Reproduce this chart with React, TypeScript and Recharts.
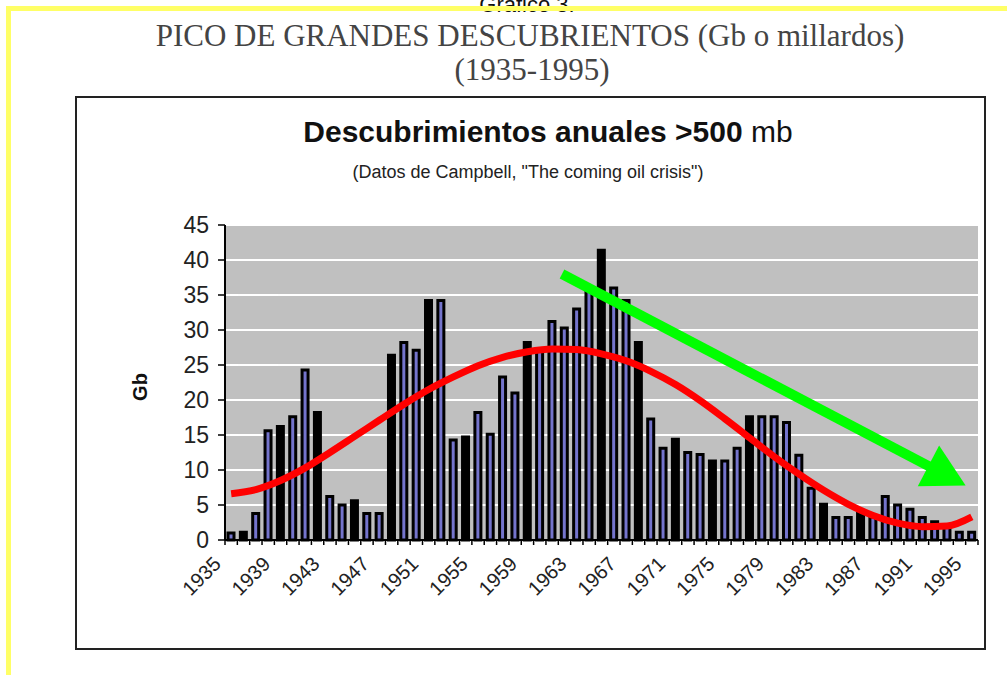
import React from "react";
import {
  ComposedChart,
  Bar,
  Line,
  Cell,
  XAxis,
  YAxis,
  CartesianGrid,
  ReferenceLine,
} from "recharts";

// ---- data ----
const years: number[] = [
  1935, 1936, 1937, 1938, 1939, 1940, 1941, 1942, 1943, 1944,
  1945, 1946, 1947, 1948, 1949, 1950, 1951, 1952, 1953, 1954,
  1955, 1956, 1957, 1958, 1959, 1960, 1961, 1962, 1963, 1964,
  1965, 1966, 1967, 1968, 1969, 1970, 1971, 1972, 1973, 1974,
  1975, 1976, 1977, 1978, 1979, 1980, 1981, 1982, 1983, 1984,
  1985, 1986, 1987, 1988, 1989, 1990, 1991, 1992, 1993, 1994, 1995,
];

const discoveries: number[] = [
  1.0, 1.1, 3.8, 15.6, 16.2, 17.6, 24.3, 18.2, 6.2, 5.0,
  5.6, 3.8, 3.8, 26.4, 28.2, 27.1, 34.2, 34.2, 14.3, 14.7,
  18.2, 15.1, 23.3, 21.0, 28.2, 27.0, 31.2, 30.3, 33.0, 35.7,
  41.4, 36.0, 34.2, 28.2, 17.3, 13.1, 14.4, 12.5, 12.2, 11.3,
  11.3, 13.1, 17.6, 17.6, 17.6, 16.8, 12.1, 7.4, 5.1, 3.2,
  3.2, 3.8, 3.3, 6.2, 5.0, 4.4, 3.2, 2.6, 1.9, 1.1, 1.1,
];

// red trend curve, read every second year (null = not read)
const trend: (number | null)[] = [
  6.6, null, 7.2, null, 8.5, null, 10.3, null, 12.5, null,
  14.8, null, 17.1, null, 19.4, null, 21.5, null, 23.3, null,
  24.9, null, 26.1, null, 26.9, null, 27.3, null, 27.2, null,
  26.6, null, 25.6, null, 24.1, null, 22.2, null, 19.9, null,
  17.3, null, 14.6, null, 11.9, null, 9.4, null, 7.1, null,
  5.1, null, 3.5, null, 2.4, null, 1.9, null, 2.0, null, 3.3,
];

// bars that appear solid black in the picture
const darkYears: number[] = [
  1936, 1939, 1942, 1945, 1948, 1951, 1954, 1959, 1965, 1968,
  1971, 1974, 1977, 1983, 1986,
];

const labelYears: number[] = [
  1935, 1939, 1943, 1947, 1951, 1955, 1959, 1963, 1967, 1971,
  1975, 1979, 1983, 1987, 1991, 1995,
];

const yTicks: number[] = [0, 5, 10, 15, 20, 25, 30, 35, 40, 45];

// green arrow: start and tip (year, Gb)
const arrowStart = { year: 1961.8, value: 38.0 };
const arrowEnd = { year: 1994.5, value: 7.8 };

const data = years.map((y, i) => ({
  year: y,
  value: discoveries[i],
  trend: trend[i],
}));

const boundaryTicks = [...years.map((y) => y - 0.5), years[years.length - 1] + 0.5];
const xDomain = [years[0] - 0.5, years[years.length - 1] + 0.5];

const SANS = "'Liberation Sans', Arial, sans-serif";
const SERIF = "'Liberation Serif', 'Times New Roman', serif";

const YearTick = (props: any) => {
  const { x, y, payload } = props;
  const yr = Math.round(payload.value + 0.5);
  if (!labelYears.includes(yr)) return null;
  const ax = x - 13;
  const ay = y + 8;
  return (
    <text
      x={ax}
      y={ay}
      dy="0.72em"
      transform={`rotate(-45 ${ax} ${ay})`}
      textAnchor="end"
      fontSize={20}
      fontFamily={SANS}
      fill="#222"
    >
      {yr}
    </text>
  );
};

const ArrowShape = (props: any) => {
  const { x1, y1, x2, y2 } = props;
  if ([x1, y1, x2, y2].some((v) => typeof v !== "number" || isNaN(v))) return null;
  const dx = x2 - x1;
  const dy = y2 - y1;
  const len = Math.hypot(dx, dy);
  const ux = dx / len;
  const uy = dy / len;
  const headLen = 42;
  const headW = 23;
  const bx = x2 - ux * headLen;
  const by = y2 - uy * headLen;
  const px = -uy;
  const py = ux;
  return (
    <g>
      <line x1={x1} y1={y1} x2={bx + ux * 3} y2={by + uy * 3} stroke="#00ff00" strokeWidth={10} />
      <polygon
        points={`${x2},${y2} ${bx + px * headW},${by + py * headW} ${bx - px * headW},${by - py * headW}`}
        fill="#00ff00"
      />
    </g>
  );
};

export default function App() {
  return (
    <div
      style={{
        position: "absolute",
        left: 0,
        top: 0,
        width: 1007,
        height: 675,
        background: "#ffffff",
        overflow: "hidden",
        fontFamily: SANS,
      }}
    >
      {/* "Gráfico 3." cut at the top, as in the reference */}
      <div
        style={{
          position: "absolute",
          left: 0,
          width: 1054,
          top: -7,
          textAlign: "center",
          fontSize: 22,
          lineHeight: "24px",
          color: "#111",
          fontFamily: SANS,
        }}
      >
        Gráfico 3.
      </div>
      {/* yellow frame */}
      <div
        style={{
          position: "absolute",
          left: 6,
          top: 6,
          width: 1020,
          height: 700,
          borderTop: "5px solid #ffff66",
          borderLeft: "5px solid #ffff66",
        }}
      />
      {/* outer serif titles */}
      <div
        style={{
          position: "absolute",
          left: 0,
          width: 1060,
          top: 18,
          textAlign: "center",
          fontFamily: SERIF,
          fontSize: 31,
          lineHeight: "36px",
          color: "#444",
        }}
      >
        PICO DE GRANDES DESCUBRIENTOS (Gb o millardos)
      </div>
      <div
        style={{
          position: "absolute",
          left: 0,
          width: 1064,
          top: 52,
          textAlign: "center",
          fontFamily: SERIF,
          fontSize: 31,
          lineHeight: "36px",
          color: "#444",
        }}
      >
        (1935-1995)
      </div>
      {/* chart frame */}
      <div
        style={{
          position: "absolute",
          left: 75,
          top: 96,
          width: 907,
          height: 550,
          border: "2px solid #222",
        }}
      />
      {/* chart titles */}
      <div
        style={{
          position: "absolute",
          left: 75,
          width: 946,
          top: 114,
          textAlign: "center",
          fontSize: 30,
          lineHeight: "36px",
          color: "#111",
        }}
      >
        <span style={{ fontWeight: "bold" }}>Descubrimientos anuales &gt;500</span> mb
      </div>
      <div
        style={{
          position: "absolute",
          left: 75,
          width: 906,
          top: 161,
          textAlign: "center",
          fontSize: 18,
          lineHeight: "22px",
          color: "#222",
        }}
      >
        (Datos de Campbell, "The coming oil crisis")
      </div>
      {/* y axis title */}
      <div
        style={{
          position: "absolute",
          left: 110,
          top: 372,
          width: 60,
          height: 30,
          lineHeight: "30px",
          textAlign: "center",
          fontWeight: "bold",
          fontSize: 20,
          color: "#111",
          transform: "rotate(-90deg)",
        }}
      >
        Gb
      </div>

      <div style={{ position: "absolute", left: 0, top: 0 }}>
        <ComposedChart
          width={1007}
          height={675}
          data={data}
          margin={{ top: 225, right: 29, bottom: 55, left: 0 }}
        >
          <CartesianGrid
            xAxisId="x"
            vertical={false}
            fill="#c0c0c0"
            fillOpacity={1}
            stroke="#ffffff"
            strokeWidth={2}
          />
          <XAxis
            xAxisId="x"
            dataKey="year"
            type="number"
            domain={xDomain}
            ticks={boundaryTicks}
            interval={0}
            tick={<YearTick />}
            tickSize={5}
            tickMargin={2}
            height={80}
            axisLine={{ stroke: "#000", strokeWidth: 2 }}
            tickLine={{ stroke: "#000", strokeWidth: 1.5 }}
            allowDecimals
          />
          <YAxis
            domain={[0, 45]}
            ticks={yTicks}
            interval={0}
            width={225}
            tickSize={7}
            tickMargin={9}
            axisLine={{ stroke: "#000", strokeWidth: 2 }}
            tickLine={{ stroke: "#000", strokeWidth: 1.5 }}
            tick={{ fontSize: 23, fill: "#222", fontFamily: SANS }}
          />
          <Bar
            xAxisId="x"
            dataKey="value"
            barSize={6}
            stroke="#000"
            strokeWidth={3}
            isAnimationActive={false}
          >
            {data.map((d, i) => (
              <Cell key={i} fill={darkYears.includes(d.year) ? "#000000" : "#7474cc"} />
            ))}
          </Bar>
          <Line
            xAxisId="x"
            dataKey="trend"
            type="monotone"
            stroke="#ff0000"
            strokeWidth={7}
            dot={false}
            activeDot={false}
            connectNulls
            isAnimationActive={false}
          />
          <ReferenceLine
            xAxisId="x"
            segment={[
              { x: arrowStart.year, y: arrowStart.value },
              { x: arrowEnd.year, y: arrowEnd.value },
            ]}
            shape={<ArrowShape />}
            ifOverflow="visible"
          />
        </ComposedChart>
      </div>
    </div>
  );
}
